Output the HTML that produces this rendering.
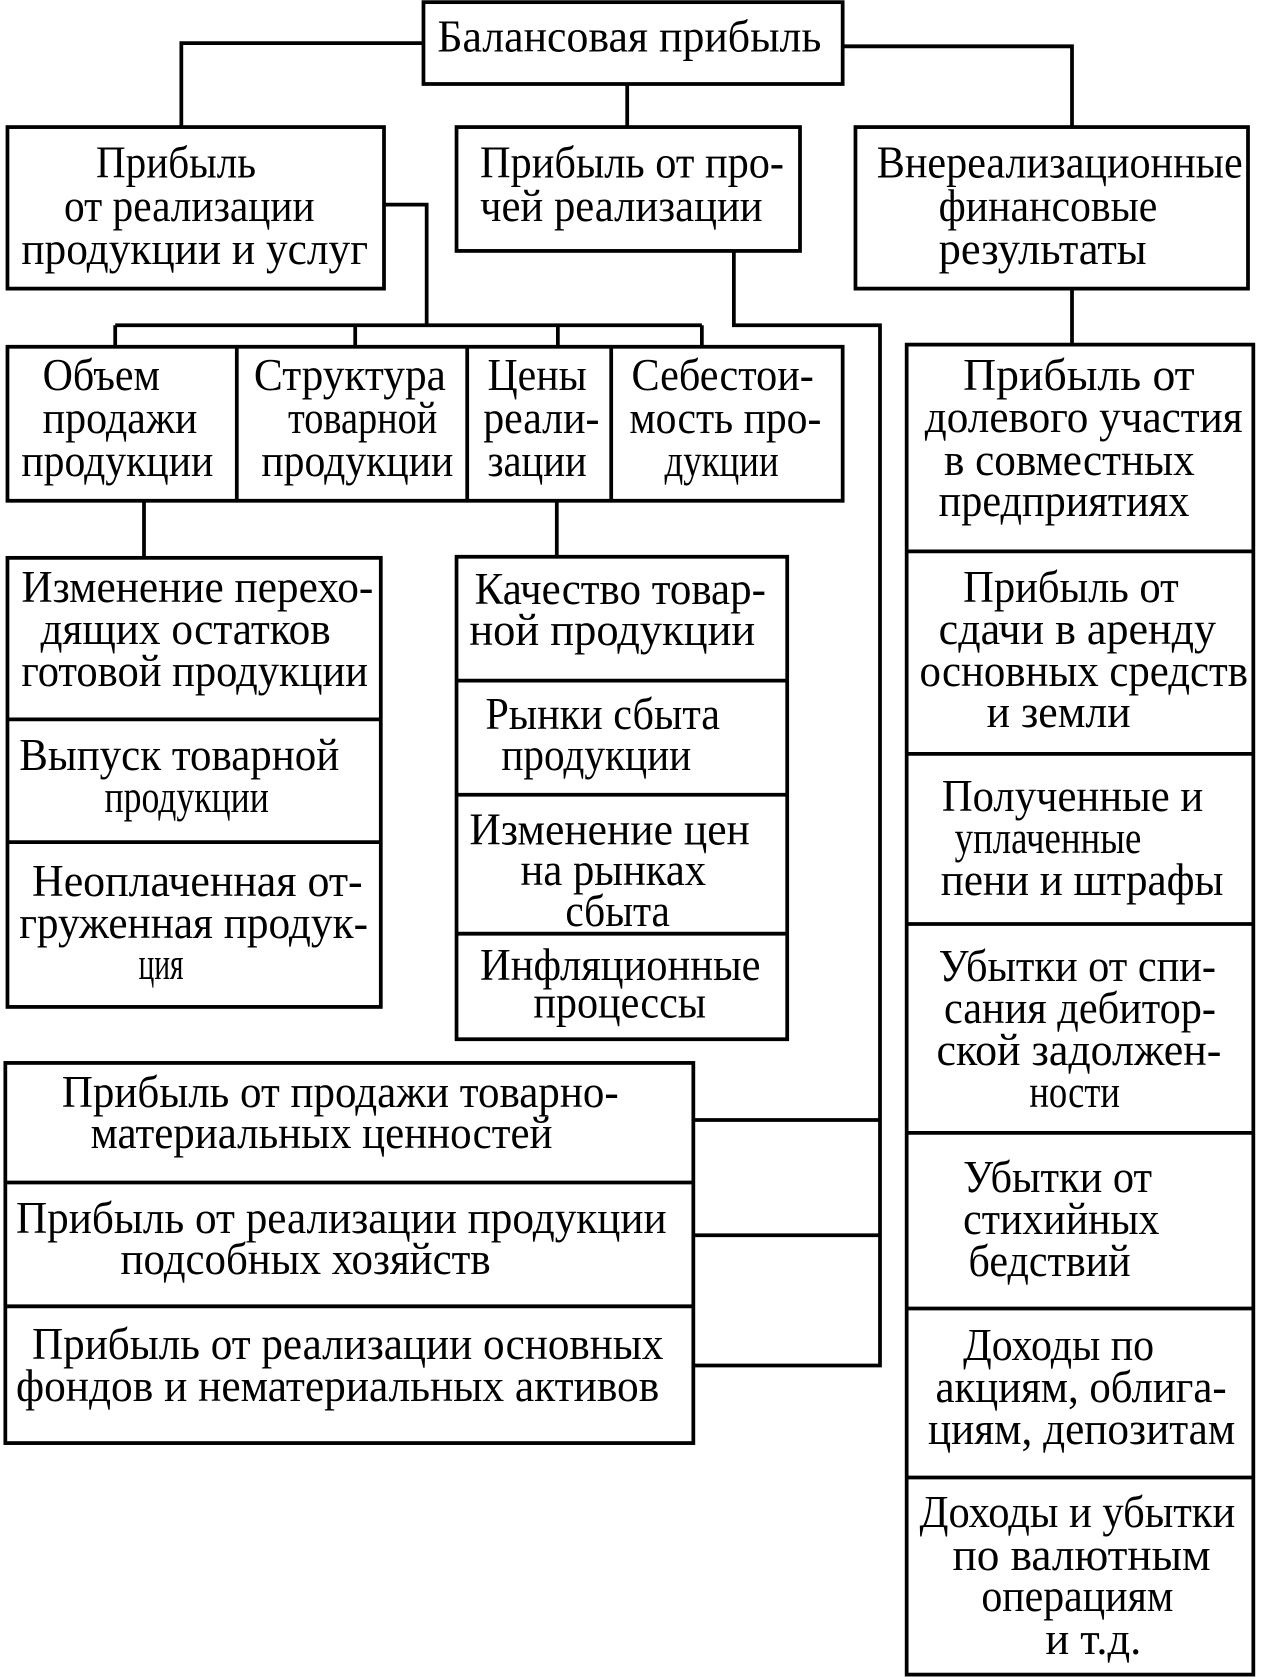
<!DOCTYPE html>
<html><head><meta charset="utf-8"><style>html,body{margin:0;padding:0;background:#fff}svg{display:block}</style></head>
<body>
<svg width="1264" height="1680" viewBox="0 0 1185 1560" preserveAspectRatio="none" xmlns="http://www.w3.org/2000/svg">
<g fill="none" stroke="#000" stroke-width="3.5">
<rect x="397" y="2" width="393" height="76"/>
<polyline points="397,40 170,40 170,118"/>
<polyline points="790,43 1005,43 1005,118"/>
<line x1="588" y1="78" x2="588" y2="118"/>
<rect x="7" y="118" width="353" height="150"/>
<rect x="428" y="118" width="322" height="115"/>
<rect x="802" y="118" width="368" height="150"/>
<polyline points="360,190 400,190 400,302"/>
<line x1="108" y1="302" x2="658" y2="302"/>
<line x1="108" y1="302" x2="108" y2="322"/>
<line x1="333" y1="302" x2="333" y2="322"/>
<line x1="523" y1="302" x2="523" y2="322"/>
<line x1="658" y1="302" x2="658" y2="322"/>
<rect x="7" y="322" width="783" height="143"/>
<line x1="222" y1="322" x2="222" y2="465"/>
<line x1="438" y1="322" x2="438" y2="465"/>
<line x1="573" y1="322" x2="573" y2="465"/>
<line x1="1005" y1="268" x2="1005" y2="320"/>
<rect x="850" y="320" width="325" height="1235"/>
<line x1="850" y1="512" x2="1175" y2="512"/>
<line x1="850" y1="700" x2="1175" y2="700"/>
<line x1="850" y1="858" x2="1175" y2="858"/>
<line x1="850" y1="1052" x2="1175" y2="1052"/>
<line x1="850" y1="1215" x2="1175" y2="1215"/>
<line x1="850" y1="1372" x2="1175" y2="1372"/>
<polyline points="688,233 688,302 825,302 825,1268 650,1268"/>
<line x1="650" y1="1040" x2="825" y2="1040"/>
<line x1="650" y1="1147" x2="825" y2="1147"/>
<line x1="135" y1="465" x2="135" y2="518"/>
<rect x="7" y="518" width="350" height="417"/>
<line x1="7" y1="668" x2="357" y2="668"/>
<line x1="7" y1="782" x2="357" y2="782"/>
<line x1="522" y1="465" x2="522" y2="517"/>
<rect x="428" y="517" width="310" height="448"/>
<line x1="428" y1="632" x2="738" y2="632"/>
<line x1="428" y1="738" x2="738" y2="738"/>
<line x1="428" y1="867" x2="738" y2="867"/>
<rect x="5" y="987" width="645" height="353"/>
<line x1="5" y1="1098" x2="650" y2="1098"/>
<line x1="5" y1="1213" x2="650" y2="1213"/>
</g>
<g font-family="'Liberation Serif','Noto Serif CJK SC',serif" font-size="42" fill="#000">
<text x="410" y="48" textLength="360" lengthAdjust="spacingAndGlyphs">Балансовая прибыль</text>
<text x="90" y="165" textLength="150" lengthAdjust="spacingAndGlyphs">Прибыль</text>
<text x="60" y="205" textLength="235" lengthAdjust="spacingAndGlyphs">от реализации</text>
<text x="20" y="245" textLength="325" lengthAdjust="spacingAndGlyphs">продукции и услуг</text>
<text x="450" y="165" textLength="285" lengthAdjust="spacingAndGlyphs">Прибыль от про-</text>
<text x="450" y="205" textLength="265" lengthAdjust="spacingAndGlyphs">чей реализации</text>
<text x="822" y="165" textLength="343" lengthAdjust="spacingAndGlyphs">Внереализационные</text>
<text x="880" y="205" textLength="205" lengthAdjust="spacingAndGlyphs">финансовые</text>
<text x="880" y="245" textLength="195" lengthAdjust="spacingAndGlyphs">результаты</text>
<text x="40" y="362" textLength="110" lengthAdjust="spacingAndGlyphs">Объем</text>
<text x="40" y="402" textLength="145" lengthAdjust="spacingAndGlyphs">продажи</text>
<text x="20" y="442" textLength="180" lengthAdjust="spacingAndGlyphs">продукции</text>
<text x="238" y="362" textLength="180" lengthAdjust="spacingAndGlyphs">Структура</text>
<text x="270" y="402" textLength="140" lengthAdjust="spacingAndGlyphs">товарной</text>
<text x="245" y="442" textLength="180" lengthAdjust="spacingAndGlyphs">продукции</text>
<text x="457" y="362" textLength="93" lengthAdjust="spacingAndGlyphs">Цены</text>
<text x="453" y="402" textLength="109" lengthAdjust="spacingAndGlyphs">реали-</text>
<text x="457" y="442" textLength="93" lengthAdjust="spacingAndGlyphs">зации</text>
<text x="592" y="362" textLength="171" lengthAdjust="spacingAndGlyphs">Себестои-</text>
<text x="590" y="402" textLength="180" lengthAdjust="spacingAndGlyphs">мость про-</text>
<text x="623" y="442" textLength="107" lengthAdjust="spacingAndGlyphs">дукции</text>
<text x="903" y="362" textLength="217" lengthAdjust="spacingAndGlyphs">Прибыль  от</text>
<text x="867" y="401" textLength="298" lengthAdjust="spacingAndGlyphs">долевого участия</text>
<text x="885" y="441" textLength="235" lengthAdjust="spacingAndGlyphs">в совместных</text>
<text x="880" y="479" textLength="235" lengthAdjust="spacingAndGlyphs">предприятиях</text>
<text x="903" y="559" textLength="202" lengthAdjust="spacingAndGlyphs">Прибыль от</text>
<text x="880" y="598" textLength="260" lengthAdjust="spacingAndGlyphs">сдачи в аренду</text>
<text x="862" y="637" textLength="308" lengthAdjust="spacingAndGlyphs">основных средств</text>
<text x="925" y="675" textLength="135" lengthAdjust="spacingAndGlyphs">и земли</text>
<text x="883" y="753" textLength="245" lengthAdjust="spacingAndGlyphs">Полученные и</text>
<text x="895" y="792" textLength="175" lengthAdjust="spacingAndGlyphs">уплаченные</text>
<text x="882" y="831" textLength="265" lengthAdjust="spacingAndGlyphs">пени и штрафы</text>
<text x="880" y="911" textLength="260" lengthAdjust="spacingAndGlyphs">Убытки от спи-</text>
<text x="885" y="950" textLength="255" lengthAdjust="spacingAndGlyphs">сания дебитор-</text>
<text x="878" y="989" textLength="267" lengthAdjust="spacingAndGlyphs">ской задолжен-</text>
<text x="965" y="1028" textLength="85" lengthAdjust="spacingAndGlyphs">ности</text>
<text x="903" y="1107" textLength="177" lengthAdjust="spacingAndGlyphs">Убытки от</text>
<text x="903" y="1146" textLength="184" lengthAdjust="spacingAndGlyphs">стихийных</text>
<text x="908" y="1185" textLength="152" lengthAdjust="spacingAndGlyphs">бедствий</text>
<text x="903" y="1263" textLength="179" lengthAdjust="spacingAndGlyphs">Доходы по</text>
<text x="877" y="1302" textLength="273" lengthAdjust="spacingAndGlyphs">акциям, облига-</text>
<text x="870" y="1341" textLength="288" lengthAdjust="spacingAndGlyphs">циям, депозитам</text>
<text x="862" y="1418" textLength="296" lengthAdjust="spacingAndGlyphs">Доходы и убытки</text>
<text x="893" y="1458" textLength="242" lengthAdjust="spacingAndGlyphs">по  валютным</text>
<text x="920" y="1496" textLength="180" lengthAdjust="spacingAndGlyphs">операциям</text>
<text x="980" y="1536" textLength="90" lengthAdjust="spacingAndGlyphs">и т.д.</text>
<text x="20" y="559" textLength="330" lengthAdjust="spacingAndGlyphs">Изменение перехо-</text>
<text x="38" y="598" textLength="272" lengthAdjust="spacingAndGlyphs">дящих остатков</text>
<text x="20" y="637" textLength="325" lengthAdjust="spacingAndGlyphs">готовой продукции</text>
<text x="18" y="715" textLength="300" lengthAdjust="spacingAndGlyphs">Выпуск товарной</text>
<text x="98" y="754" textLength="154" lengthAdjust="spacingAndGlyphs">продукции</text>
<text x="30" y="832" textLength="310" lengthAdjust="spacingAndGlyphs">Неоплаченная от-</text>
<text x="18" y="871" textLength="327" lengthAdjust="spacingAndGlyphs">груженная продук-</text>
<text x="130" y="909" textLength="42" lengthAdjust="spacingAndGlyphs">ция</text>
<text x="445" y="561" textLength="273" lengthAdjust="spacingAndGlyphs">Качество товар-</text>
<text x="440" y="599" textLength="268" lengthAdjust="spacingAndGlyphs">ной  продукции</text>
<text x="455" y="677" textLength="220" lengthAdjust="spacingAndGlyphs">Рынки сбыта</text>
<text x="470" y="715" textLength="178" lengthAdjust="spacingAndGlyphs">продукции</text>
<text x="440" y="784" textLength="263" lengthAdjust="spacingAndGlyphs">Изменение цен</text>
<text x="488" y="822" textLength="174" lengthAdjust="spacingAndGlyphs">на рынках</text>
<text x="530" y="860" textLength="98" lengthAdjust="spacingAndGlyphs">сбыта</text>
<text x="450" y="910" textLength="263" lengthAdjust="spacingAndGlyphs">Инфляционные</text>
<text x="500" y="945" textLength="162" lengthAdjust="spacingAndGlyphs">процессы</text>
<text x="58" y="1028" textLength="522" lengthAdjust="spacingAndGlyphs">Прибыль от продажи товарно-</text>
<text x="85" y="1066" textLength="433" lengthAdjust="spacingAndGlyphs">материальных ценностей</text>
<text x="15" y="1145" textLength="610" lengthAdjust="spacingAndGlyphs">Прибыль от реализации продукции</text>
<text x="113" y="1183" textLength="347" lengthAdjust="spacingAndGlyphs">подсобных хозяйств</text>
<text x="30" y="1262" textLength="592" lengthAdjust="spacingAndGlyphs">Прибыль от реализации основных</text>
<text x="15" y="1301" textLength="603" lengthAdjust="spacingAndGlyphs">фондов и нематериальных активов</text>
</g>
</svg>
</body></html>
